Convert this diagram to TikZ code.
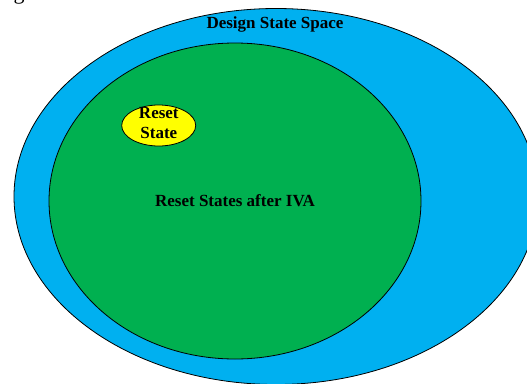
\documentclass[tikz,border=0pt]{standalone}
\usepackage{fontspec}
\setmainfont{Liberation Serif}
\definecolor{spaceblue}{HTML}{00B0F0}
\definecolor{resetgreen}{HTML}{00B050}
\definecolor{resetyellow}{HTML}{FFFF00}
\tikzset{
  region/.style={draw=black, line width=0.8pt},
  lbl/.style={font=\bfseries\fontsize{17}{20}\selectfont, inner sep=0pt, anchor=base, align=center},
}
\begin{document}
\begin{tikzpicture}[x=1pt, y=-1pt]
\useasboundingbox (0,0) rectangle (527,383);
\clip (0,0) rectangle (527,383);

% descender of a caption letter cut by the top edge
\node[font=\fontsize{22}{24}\selectfont, inner sep=0pt, anchor=base] (capg) at (19,-0.5) {g};

% design state space
\draw[region, fill=spaceblue] (276,196.5) ellipse [x radius=262pt, y radius=188pt];
% reset states reached after IVA
\draw[region, fill=resetgreen] (235,201) ellipse [x radius=186pt, y radius=158pt];
% the single reset state
\draw[region, fill=resetyellow] (158.7,125.5) ellipse [x radius=37pt, y radius=20.5pt];

\node[lbl] (space) at (275,28.3) {Design State Space};
\node[lbl] (after) at (235,206.7) {Reset States after IVA};
\node[lbl] (reset1) at (158.8,118.3) {Reset};
\node[lbl] (reset2) at (158.8,138.3) {State};
\end{tikzpicture}
\end{document}
